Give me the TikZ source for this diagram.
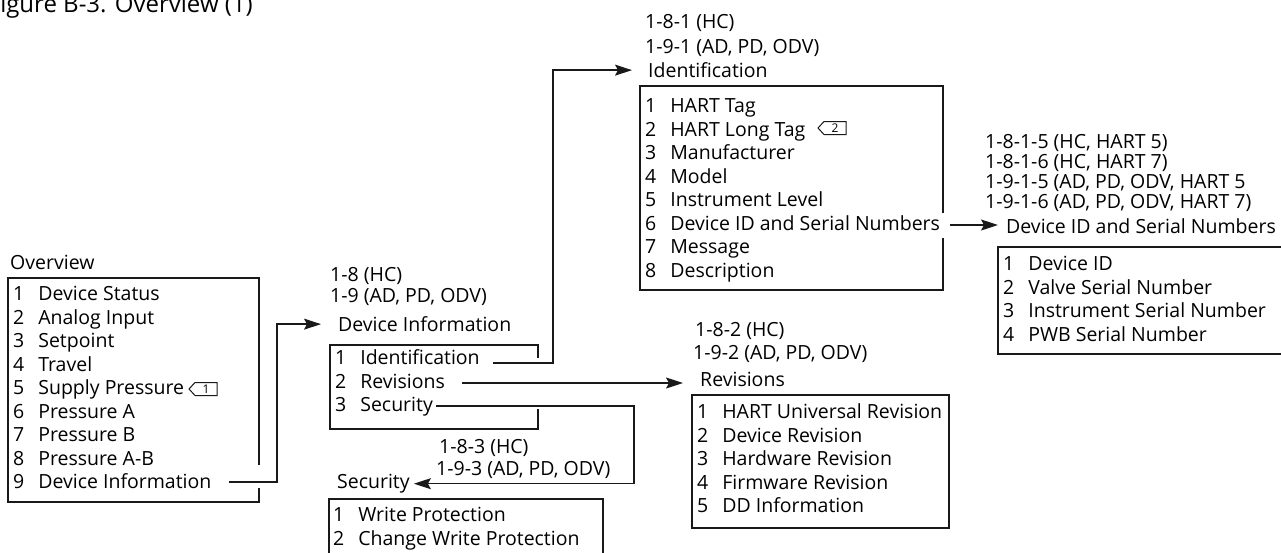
\documentclass[tikz,border=0pt]{standalone}
\usepackage{fontspec}
\setmainfont{Open Sans}
\usetikzlibrary{arrows.meta,shapes.symbols}

\tikzset{
  lbl/.style={anchor=base west, inner sep=0pt, font=\fontsize{19.5}{20}\selectfont},
  menu/.style={anchor=base west, inner sep=0pt, font=\fontsize{19.5}{23.5}\selectfont},
  frame/.style={draw=black!90, line width=1.3pt},
  link/.style={draw=black!90, line width=1.3pt, -{Stealth[length=17pt,width=11pt,inset=3pt]}},
  tag/.style={draw=black!90, line width=1pt, signal, signal to=west, signal pointer angle=95,
    minimum width=28pt, minimum height=13pt, inner xsep=3pt, inner ysep=0pt,
    font=\fontsize{12}{12}\selectfont}
}
\newcommand{\rows}[1]{\begin{tabular}[t]{@{}l@{\hspace{14pt}}l@{}}#1\end{tabular}}

\begin{document}
\begin{tikzpicture}[x=1pt, y=-1pt]
  \useasboundingbox (0,0) rectangle (1281,552);

  % Figure caption (cut at the page edge)
  \node[anchor=base east, inner sep=0pt, font=\fontsize{24}{24}\selectfont] (caption) at (253,12) {Figure B-3. Overview (1)};

  % Overview
  \node[lbl] (ovhead) at (10,269.5) {Overview};
  \node[menu] (ovlist) at (13,300.5) {\rows{1&Device Status\\2&Analog Input\\3&Setpoint\\4&Travel\\5&Supply Pressure\\6&Pressure A\\7&Pressure B\\8&Pressure A-B\\9&Device Information}};
  \draw[frame] (259,465) -- (259,278) -- (8,278) -- (8,502) -- (259,502) -- (259,488);
  \node[tag] (tag1) at (206,389) {1};
  \coordinate (ov9) at (229,482);

  % Device Information
  \node[lbl] (dicode1) at (330,281.5) {1-8 (HC)};
  \node[lbl] (dicode2) at (330,302) {1-9 (AD, PD, ODV)};
  \node[lbl] (dihead) at (338,331.5) {Device Information};
  \node[menu] (dilist) at (335,364.5) {\rows{1&Identification\\2&Revisions\\3&Security}};
  \draw[frame] (538,358) -- (538,345) -- (330,345) -- (330,429) -- (538,429) -- (538,409);
  \coordinate (di1) at (493,363);
  \coordinate (di2) at (462,383);
  \coordinate (di3) at (436,406);

  % Identification
  \node[lbl] (idcode1) at (645,28.5) {1-8-1 (HC)};
  \node[lbl] (idcode2) at (645,53) {1-9-1 (AD, PD, ODV)};
  \node[lbl] (idhead) at (648,77.5) {Identification};
  \node[menu] (idlist) at (645,112.5) {\rows{1&HART Tag\\2&HART Long Tag\\3&Manufacturer\\4&Model\\5&Instrument Level\\6&Device ID and Serial Numbers\\7&Message\\8&Description}};
  \draw[frame] (943,213) -- (943,86) -- (640,86) -- (640,290) -- (943,290) -- (943,238);
  \node[tag] (tag2) at (835,128) {2};
  \coordinate (id6) at (950,225);

  % Device ID and Serial Numbers
  \node[lbl] (sncode1) at (985,148.5) {1-8-1-5 (HC, HART 5)};
  \node[lbl] (sncode2) at (985,168.5) {1-8-1-6 (HC, HART 7)};
  \node[lbl] (sncode3) at (985,188.5) {1-9-1-5 (AD, PD, ODV, HART 5};
  \node[lbl] (sncode4) at (985,208.5) {1-9-1-6 (AD, PD, ODV, HART 7)};
  \node[lbl] (snhead) at (1006,233.5) {Device ID and Serial Numbers};
  \node[menu] (snlist) at (1003,270.5) {\rows{1&Device ID\\2&Valve Serial Number\\3&Instrument Serial Number\\4&PWB Serial Number}};
  \draw[frame] (1290,247) -- (998,247) -- (998,354) -- (1290,354);

  % Revisions
  \node[lbl] (revcode1) at (695,336.5) {1-8-2 (HC)};
  \node[lbl] (revcode2) at (693,359.5) {1-9-2 (AD, PD, ODV)};
  \node[lbl] (revhead) at (700,386.5) {Revisions};
  \node[menu] (revlist) at (697,418.5) {\rows{1&HART Universal Revision\\2&Device Revision\\3&Hardware Revision\\4&Firmware Revision\\5&DD Information}};
  \draw[frame] (692,395) rectangle (949,528);

  % Security
  \node[lbl] (seccode1) at (439,453.5) {1-8-3 (HC)};
  \node[lbl] (seccode2) at (436,475.5) {1-9-3 (AD, PD, ODV)};
  \node[lbl] (sechead) at (337,488.5) {Security};
  \node[menu] (seclist) at (333,521.5) {\rows{1&Write Protection\\2&Change Write Protection}};
  \draw[frame] (329,499) rectangle (603,565);

  % Links
  \draw[link, shorten >=17pt] (ov9) -- ++(48,0) |- (dihead.west);
  \draw[link, shorten >=16pt] (di1) -- ++(60,0) |- (idhead.west);
  \draw[link, shorten >=17pt] (di2) -- (di2 -| revhead.west);
  \draw[link, shorten >=4pt] (di3) -- ++(198,0) |- (sechead.east);
  \draw[link, shorten >=8pt] (id6) -- (id6 -| snhead.west);
\end{tikzpicture}
\end{document}
